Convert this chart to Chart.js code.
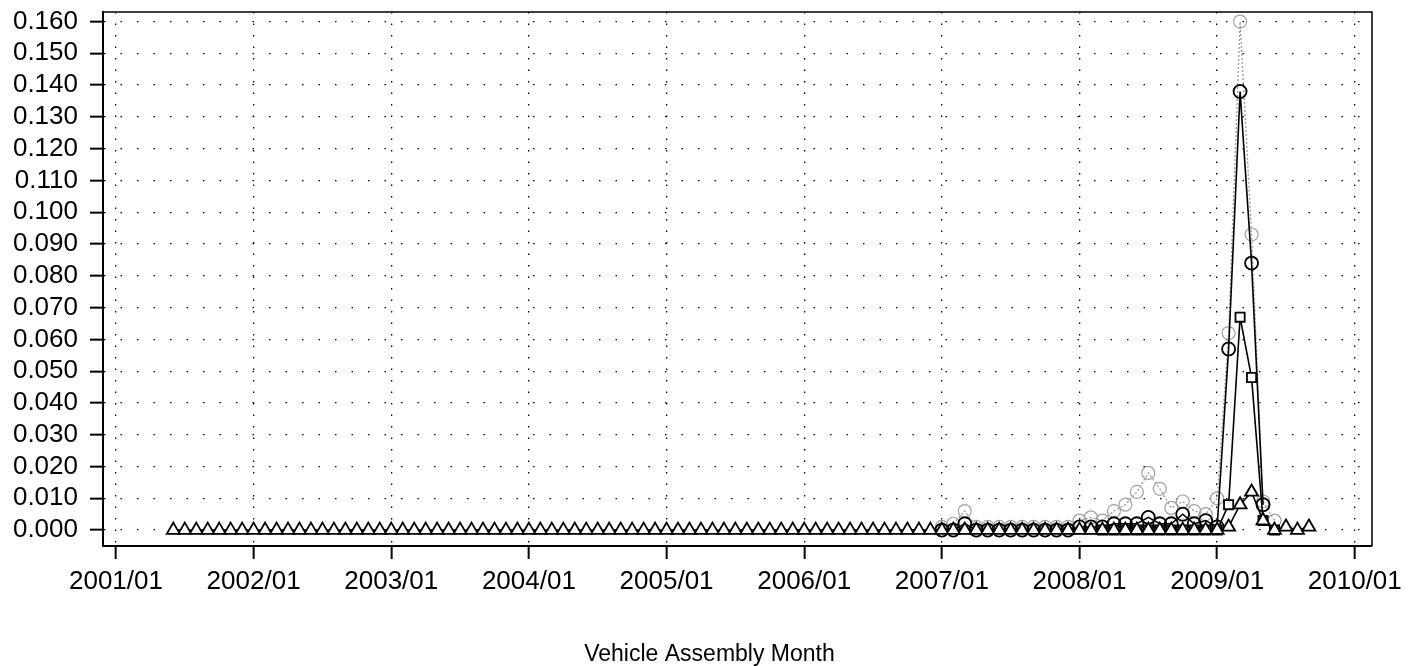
<!DOCTYPE html>
<html><head><meta charset="utf-8">
<script src="https://cdn.jsdelivr.net/npm/chart.js@4.4.1/dist/chart.umd.min.js"></script>
<style>html,body{margin:0;padding:0;background:#fff}#wrap{width:1419px;height:666px}</style>
</head><body><div id="wrap"><canvas id="c" width="1419" height="666"></canvas></div>
<script>
// x tick labels (every 12 months starting 2001/01)
const xTickLabels = ["2001/01","2002/01","2003/01","2004/01","2005/01","2006/01","2007/01","2008/01","2009/01","2010/01"];
// y tick labels
const yTickLabels = ["0.000","0.010","0.020","0.030","0.040","0.050","0.060","0.070","0.080","0.090","0.100","0.110","0.120","0.130","0.140","0.150","0.160"];
// consecutive assembly months 2001/06 .. 2009/09
const firstMonth = "2001/06";
const monthCount = 100;
const categories = [];
(function(){ let y=+firstMonth.slice(0,4), m=+firstMonth.slice(5); for(let i=0;i<monthCount;i++){ categories.push(y+"/"+String(m).padStart(2,"0")); m++; if(m>12){m=1;y++;} } })();

// series A (triangles), one value per month in categories
const seriesA = [
 0,0,0,0,0,0,0,0,0,0, 0,0,0,0,0,0,0,0,0,0,
 0,0,0,0,0,0,0,0,0,0, 0,0,0,0,0,0,0,0,0,0,
 0,0,0,0,0,0,0,0,0,0, 0,0,0,0,0,0,0,0,0,0,
 0,0,0,0,0,0,0,0,0,0, 0,0,0,0,0,0,0,0,0,0,
 0,0,0,0,0,0,0,0,0,0, 0,
 0,0.001,0.008,0.012,0.003,0,0.001,0,0.001
];
// series B (squares)
const seriesB = [
 null,null,null,null,null,null,null,null,null,null, null,null,null,null,null,null,null,null,null,null,
 null,null,null,null,null,null,null,null,null,null, null,null,null,null,null,null,null,null,null,null,
 null,null,null,null,null,null,null,null,null,null, null,null,null,null,null,null,null,null,null,null,
 null,null,null,null,null,null,null,null,null,null, null,null,null,null,null,null,null,null,null,null,
 null,
 0,0,0,0,0,0,0,0,0,0,
 0,0.008,0.067,0.048,0.003,0,
 null,null,null
];
// series C (circles)
const seriesC = [
 null,null,null,null,null,null,null,null,null,null, null,null,null,null,null,null,null,null,null,null,
 null,null,null,null,null,null,null,null,null,null, null,null,null,null,null,null,null,null,null,null,
 null,null,null,null,null,null,null,null,null,null, null,null,null,null,null,null,null,null,null,null,
 null,null,null,null,null,null,null,
 0,0,0.002,0,0,0,0,0,0,0,0,0,
 0.001,0.001,0.001,0.002,0.002,0.002,0.004,0.002,0.002,0.005,0.002,0.003,
 0.001,0.057,0.138,0.084,0.008,
 null,null,null,null
];
// series D (grey dashed)
const seriesD = [
 null,null,null,null,null,null,null,null,null,null, null,null,null,null,null,null,null,null,null,null,
 null,null,null,null,null,null,null,null,null,null, null,null,null,null,null,null,null,null,null,null,
 null,null,null,null,null,null,null,null,null,null, null,null,null,null,null,null,null,null,null,null,
 null,null,null,null,null,null,null,
 0.001,0.002,0.006,0.001,0.001,0.001,0.001,0.001,0.001,0.001,0.001,0.001,
 0.003,0.004,0.003,0.006,0.008,0.012,0.018,0.013,0.007,0.009,0.006,0.005,
 0.010,0.062,0.160,0.093,0.009,0.003,
 null,null,null
];

function monthIndex(s){ return (+s.slice(0,4)-2001)*12 + (+s.slice(5)-1); }
function pts(arr){ return categories.map((c,i)=>({x:monthIndex(c), y:arr[i]})); }

const frame = {
  id:'frame',
  afterDatasetsDraw(chart){
    const {ctx, chartArea:a} = chart;
    ctx.save(); ctx.strokeStyle='#000'; ctx.lineWidth=1.5;
    ctx.beginPath(); ctx.moveTo(a.left,a.top); ctx.lineTo(a.right,a.top); ctx.lineTo(a.right,a.bottom); ctx.stroke();
    ctx.restore();
  }
};

const FONT = "'Liberation Sans', Arial, sans-serif";
new Chart(document.getElementById('c'), {
  type:'line',
  data:{ datasets:[
    {label:'A', data:pts(seriesA), borderColor:'#000', borderWidth:1.6, pointStyle:'triangle', pointRadius:7.5, pointBorderColor:'#000', pointBackgroundColor:'#fff', pointBorderWidth:1.8},
    {label:'B', data:pts(seriesB), borderColor:'#000', borderWidth:1.6, pointStyle:'rect', pointRadius:6.5, pointBorderColor:'#000', pointBackgroundColor:'#fff', pointBorderWidth:1.8},
    {label:'C', data:pts(seriesC), borderColor:'#000', borderWidth:1.6, pointStyle:'circle', pointRadius:6.5, pointBorderColor:'#000', pointBackgroundColor:'rgba(255,255,255,0)', pointBorderWidth:1.8},
    {label:'D', data:pts(seriesD), borderColor:'#9a9a9a', borderWidth:1.3, borderDash:[2,2], pointStyle:'circle', pointRadius:6.5, pointBorderColor:'#a0a0a0', pointBackgroundColor:'rgba(255,255,255,0)', pointBorderWidth:1.2}
  ]},
  options:{
    responsive:false, animation:false, devicePixelRatio:1,
    layout:{padding:0},
    plugins:{legend:{display:false}, tooltip:{enabled:false},
      title:{display:true, position:'bottom', text:'Vehicle Assembly Month', color:'#000', font:{family:FONT,size:23,weight:'normal',lineHeight:1}, padding:{top:0,bottom:0}}
    },
    scales:{
      x:{type:'linear', min:-1.13, max:109.5,
        afterBuildTicks:s=>{ s.ticks = xTickLabels.map(t=>({value:monthIndex(t)})); },
        afterFit:s=>{ s.height = 666 - 23 - 546; s.paddingLeft = 0; s.paddingRight = 47; },
        ticks:{ callback:(v)=>xTickLabels[Math.round(v/12)], font:{family:FONT,size:26,lineHeight:1}, color:'#000', padding:10, maxRotation:0, autoSkip:false},
        grid:{color:'#000', lineWidth:1.3, tickLength:13, tickColor:'#000', tickWidth:2},
        border:{display:true, color:'#000', width:2, dash:[1.5,10]}
      },
      y:{min:-0.005, max:0.163,
        afterBuildTicks:s=>{ s.ticks = yTickLabels.map(t=>({value:parseFloat(t)})); },
        afterFit:s=>{ s.width = 103; s.paddingTop = 12; s.paddingBottom = 0; },
        ticks:{ callback:(v)=>yTickLabels[Math.round(v*100)], font:{family:FONT,size:26,lineHeight:1}, color:'#000', padding:12, autoSkip:false},
        grid:{color:'#000', lineWidth:1.3, tickLength:13, tickColor:'#000', tickWidth:2},
        border:{display:true, color:'#000', width:2, dash:[1.5,15]}
      }
    }
  },
  plugins:[frame]
});
</script></body></html>
